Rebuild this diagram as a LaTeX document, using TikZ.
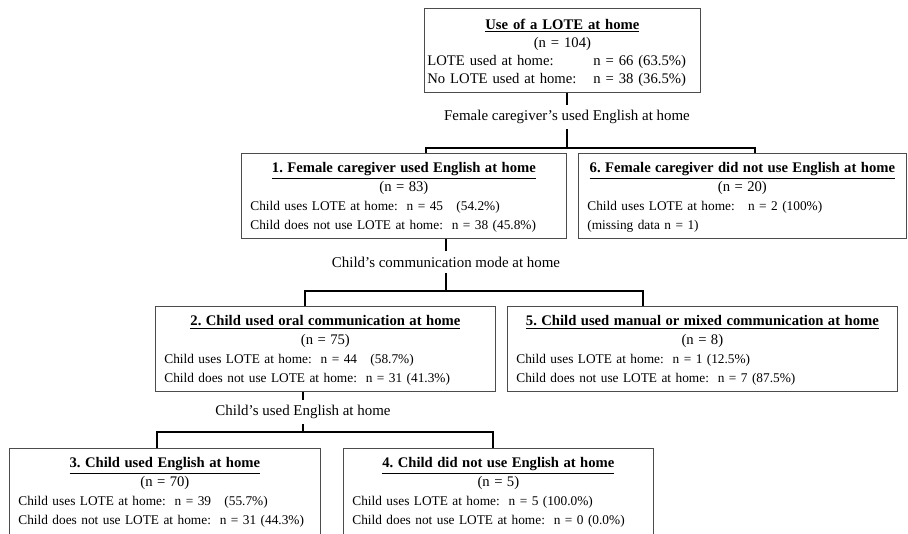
\documentclass[tikz,border=0pt]{standalone}
\usepackage{fontspec}
\setmainfont{Liberation Serif}
\frenchspacing
% box heading: title and group size
\newcommand{\boxhead}[2]{{\centering\fontsize{11}{14.25}\selectfont
  \rule{0pt}{10pt}\textbf{\underline{#1}}\\(n = #2)\par}}
\begin{document}
\begin{tikzpicture}[x=0.75pt,y=-0.75pt]
  \tikzset{
    box/.style={draw=black!70,line width=0.6pt,anchor=north west,align=left,
      inner xsep=6.75pt,inner ysep=4.5pt,font=\fontsize{10}{14.25}\selectfont},
    lbl/.style={inner xsep=2pt,inner ysep=4pt,font=\fontsize{11.2}{13}\selectfont},
    conn/.style={line width=1.5pt}
  }
  \useasboundingbox (0,0) rectangle (908,534);

    %TOP BOX
    \node[box,inner xsep=2.25pt,text width=202.5pt,font=\fontsize{11}{13.5}\selectfont] (b0) at (424,8) {%
      {\centering\rule{0pt}{11pt}\textbf{\underline{Use of a LOTE at home}}\\(n = 104)\par}
      \makebox[124.5pt][l]{LOTE used at home:}n = 66 (63.5\%)\\
      \makebox[124.5pt][l]{No LOTE used at home:}n = 38 (36.5\%)};
    \node[lbl] (q1) at (567,117) {Female caregiver's used English at home};
    \coordinate (l1) at (426,148);
    \coordinate (r1) at (755,148);

    %LEVEL 1
    \node[box,text width=230.25pt] (b1) at (241,153) {%
      \boxhead{1. Female caregiver used English at home}{83}
      Child uses LOTE at home:\ \ n = 45\ \ \ (54.2\%)\\
      Child does not use LOTE at home:\ \ n = 38 (45.8\%)};
    \node[box,text width=232.5pt] (b6) at (578,153) {%
      \boxhead{6. Female caregiver did not use English at home}{20}
      Child uses LOTE at home:\ \ \ n = 2 (100\%)\\
      (missing data n = 1)};
    \node[lbl] (q2) at (446,262) {Child's communication mode at home};
    \coordinate (l2) at (305,291);
    \coordinate (r2) at (643,291);

    %LEVEL 2
    \node[box,text width=241.5pt] (b2) at (155,306) {%
      \boxhead{2. Child used oral communication at home}{75}
      Child uses LOTE at home:\ \ n = 44\ \ \ (58.7\%)\\
      Child does not use LOTE at home:\ \ n = 31 (41.3\%)};
    \node[box,text width=279pt] (b5) at (507,306) {%
      \boxhead{5. Child used manual or mixed communication at home}{8}
      Child uses LOTE at home:\ \ n = 1 (12.5\%)\\
      Child does not use LOTE at home:\ \ n = 7 (87.5\%)};
    \node[lbl] (q3) at (303,412) {Child's used English at home};
    \coordinate (l3) at (157,432);
    \coordinate (r3) at (493,432);

    %LEVEL 3 (boxes run past the lower edge)
    \node[box,text width=219.75pt] (b3) at (9,448) {%
      \boxhead{3. Child used English at home}{70}
      Child uses LOTE at home:\ \ n = 39\ \ \ (55.7\%)\\
      Child does not use LOTE at home:\ \ n = 31 (44.3\%)\rule[-20pt]{0pt}{20pt}};
    \node[box,text width=219pt] (b4) at (343,448) {%
      \boxhead{4. Child did not use English at home}{5}
      Child uses LOTE at home:\ \ n = 5 (100.0\%)\\
      Child does not use LOTE at home:\ \ n = 0 (0.0\%)\rule[-20pt]{0pt}{20pt}};

    %CONNECTORS
    \foreach \p/\q/\l/\r/\a/\b in {b0/q1/l1/r1/b1/b6,b2/q3/l3/r3/b3/b4} {
      \draw[conn] (\p.south -| \q) -- (\q.north) ;
      \draw[conn] (\q.south) -- (\q.south |- \l) ;
      \draw[conn] (\a.north -| \l) -- (\l) -- (\r) -- (\b.north -| \r) ;
    }
    \draw[conn] (b1.south -| q2) -- (q2.north) ;
    \draw[conn] (q2.south) -- (q2.south |- l2) ;
    \draw[conn] (b2.north -| l2) -- (l2) -- (r2) -- (b5.north -| r2) ;
\end{tikzpicture}
\end{document}
